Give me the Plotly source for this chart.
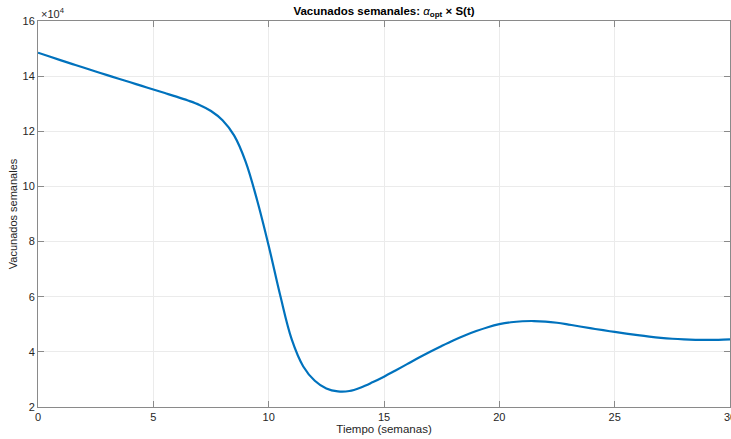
import plotly.graph_objects as go

# Weekly vaccinations alpha_opt * S(t), sampled every half week (people per week)
semanas = [i * 0.5 for i in range(61)]
vacunados = [
    148500, 147100, 145720, 144360, 143020, 141690, 140370, 139060, 137760, 136460,
    135160, 133860, 132560, 131160, 129560, 127360, 124000, 118500, 109000, 95000,
    78500, 60500, 44500, 34700, 29500, 26700, 25650, 25800, 27100, 28950,
    31000, 33250, 35550, 37850, 40050, 42150, 44150, 45950, 47550, 48950,
    50050, 50750, 51100, 51180, 51000, 50550, 49900, 49200, 48500, 47850,
    47220, 46620, 46050, 45520, 45080, 44750, 44520, 44380, 44330, 44380,
    44500,
]

y_ticks = [20000, 40000, 60000, 80000, 100000, 120000, 140000, 160000]
y_tick_text = ["2", "4", "6", "8", "10", "12", "14", "16"]
x_ticks = [0, 5, 10, 15, 20, 25, 30]

FONT = "Liberation Sans, Arial, Helvetica, sans-serif"
AXIS = "#8a8a8a"
TEXT = "#262626"

fig = go.Figure(
    go.Scatter(
        x=semanas, y=vacunados, mode="lines",
        line=dict(color="#0072BD", width=2.2, shape="spline", smoothing=1.0),
        hoverinfo="x+y",
    )
)

axis_common = dict(
    showline=True, linecolor=AXIS, linewidth=1, mirror="ticks",
    ticks="inside", ticklen=6, tickcolor=AXIS, tickwidth=1,
    showgrid=True, gridcolor="#ebebeb", gridwidth=1, zeroline=False,
    tickfont=dict(family=FONT, size=11, color=TEXT),
    ticklabeloverflow="allow", automargin=False,
)

fig.update_xaxes(
    range=[0, 30], tickvals=x_ticks, ticktext=[str(v) for v in x_ticks],
    title=dict(text="Tiempo (semanas)", font=dict(family=FONT, size=11.5, color=TEXT), standoff=2),
    **axis_common,
)
fig.update_yaxes(
    range=[20000, 160000], tickvals=y_ticks, ticktext=y_tick_text,
    title=dict(text="Vacunados semanales", font=dict(family=FONT, size=11, color=TEXT), standoff=2),
    **axis_common,
)

fig.update_layout(
    width=731, height=439,
    margin=dict(l=38, r=1, t=21, b=32),
    paper_bgcolor="white", plot_bgcolor="white",
    showlegend=False,
    title=dict(
        text="<b>Vacunados semanales: </b><i>α</i><sub><b>opt</b></sub><b> × S(t)</b>",
        x=(38 + 730) / 2 / 731, xanchor="center", y=0.985, yanchor="top",
        font=dict(family=FONT, size=11.5, color="#000000"),
    ),
    annotations=[
        dict(
            text="×10<sup>4</sup>", xref="paper", yref="paper", x=0, y=1,
            xanchor="left", yanchor="bottom", showarrow=False, xshift=1, yshift=-1,
            font=dict(family=FONT, size=11, color=TEXT),
        )
    ],
)

fig.write_html("out.html")
